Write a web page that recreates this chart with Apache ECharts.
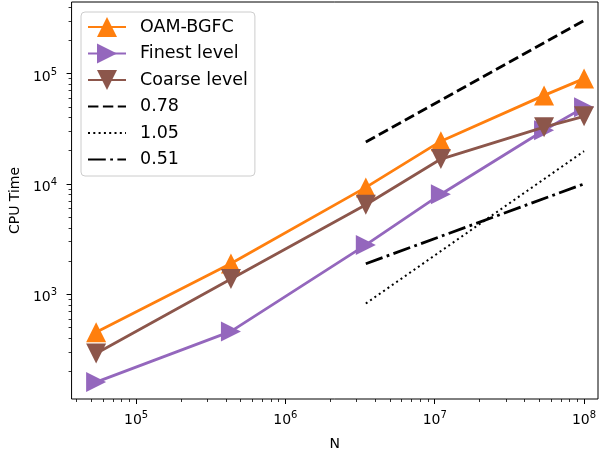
<!DOCTYPE html>
<html>
<head>
<meta charset="utf-8">
<script src="https://cdn.jsdelivr.net/npm/echarts@6/dist/echarts.min.js"></script>
<style>html,body{margin:0;padding:0;background:#fff}#c{width:600px;height:456px}</style>
</head>
<body>
<div id="c"></div>
<script>
// ---- data ----
const N = [54000, 432000, 3456000, 1.1e7, 5.4e7, 1.0e8];
const OAM_BGFC = [452, 1900, 9300, 24400, 63400, 90000];
const FINEST = [160, 461, 2800, 8070, 30600, 49400];
const COARSE = [291, 1375, 6470, 16800, 32700, 41000];
const REF_X = [3456000, 1.0e8];
const REF_078 = [24000, 302000];
const REF_105 = [825, 19800];
const REF_051 = [1890, 10000];
const X_TICK_EXP = [5, 6, 7, 8];
const Y_TICK_EXP = [3, 4, 5];
const MINOR_MANT = [2, 3, 4, 5, 6, 7, 8, 9];
const X_RANGE = [37000, 1.24e8];
const Y_RANGE = [112.5, 445000];

const FONT = 'DejaVu Sans';
const lg = Math.log10;
function minorTicks(range) {
  const out = [];
  for (let e = Math.floor(lg(range[0])); e <= Math.ceil(lg(range[1])); e++) {
    MINOR_MANT.forEach(m => {
      const v = lg(m) + e;
      if (v >= lg(range[0]) && v <= lg(range[1])) out.push(v);
    });
  }
  return out;
}
const pairs = (xs, ys) => xs.map((x, i) => [x, ys[i]]);
const supFmt = v => '{b|10}{s|' + Math.round(v) + '}';
const rich = {
  b: {fontSize: 14, fontFamily: FONT, color: '#000', lineHeight: 17, verticalAlign: 'bottom'},
  s: {fontSize: 10, fontFamily: FONT, color: '#000', lineHeight: 10, verticalAlign: 'top'}
};

const chart = echarts.init(document.getElementById('c'), null, {renderer: 'canvas'});
const dataSeries = (name, ys, color, rot, z) => ({
  name, type: 'line', data: pairs(N, ys), xAxisIndex: 0, yAxisIndex: 0,
  symbol: 'triangle', symbolSize: 20, symbolRotate: rot, showSymbol: true,
  lineStyle: {color, width: 2.8}, itemStyle: {color}, z, silent: true
});
const refSeries = (name, ys, type, width, z) => ({
  name, type: 'line', data: pairs(REF_X, ys), xAxisIndex: 0, yAxisIndex: 0,
  symbol: 'none', showSymbol: false,
  lineStyle: {color: '#000', width, type, cap: 'butt'}, itemStyle: {color: '#000'}, z, silent: true
});

chart.setOption({
  animation: false,
  textStyle: {fontFamily: FONT},
  grid: {left: 71, right: 2, top: 2, bottom: 54, show: true, borderColor: '#000', borderWidth: 1, backgroundColor: 'transparent'},
  xAxis: [
    {type: 'log', logBase: 10, min: X_RANGE[0], max: X_RANGE[1], show: false, splitLine: {show: false}},
    {type: 'value', min: lg(X_RANGE[0]), max: lg(X_RANGE[1]), position: 'bottom',
     name: 'N', nameLocation: 'middle', nameGap: 38, nameTextStyle: {fontSize: 14, color: '#000', fontFamily: FONT},
     axisLine: {show: false}, splitLine: {show: false},
     axisTick: {show: true, length: 5, lineStyle: {color: '#000', width: 1}, customValues: X_TICK_EXP},
     axisLabel: {customValues: X_TICK_EXP, formatter: supFmt, rich, margin: 11.5}},
    {type: 'value', min: lg(X_RANGE[0]), max: lg(X_RANGE[1]), position: 'bottom',
     axisLine: {show: false}, splitLine: {show: false}, axisLabel: {show: false},
     axisTick: {show: true, length: 3, lineStyle: {color: '#000', width: 0.8}, customValues: minorTicks(X_RANGE)}}
  ],
  yAxis: [
    {type: 'log', logBase: 10, min: Y_RANGE[0], max: Y_RANGE[1], show: false, splitLine: {show: false}},
    {type: 'value', min: lg(Y_RANGE[0]), max: lg(Y_RANGE[1]), position: 'left',
     name: 'CPU Time', nameLocation: 'middle', nameGap: 47, nameTextStyle: {fontSize: 14, color: '#000', fontFamily: FONT},
     axisLine: {show: false}, splitLine: {show: false},
     axisTick: {show: true, length: 5, lineStyle: {color: '#000', width: 1}, customValues: Y_TICK_EXP},
     axisLabel: {customValues: Y_TICK_EXP, formatter: supFmt, rich, margin: 14.5, padding: [4, 0, 0, 0]}},
    {type: 'value', min: lg(Y_RANGE[0]), max: lg(Y_RANGE[1]), position: 'left',
     axisLine: {show: false}, splitLine: {show: false}, axisLabel: {show: false},
     axisTick: {show: true, length: 3, lineStyle: {color: '#000', width: 0.8}, customValues: minorTicks(Y_RANGE)}}
  ],
  legend: {
    orient: 'vertical', left: 81, top: 12, padding: [5, 7, 6.5, 6], itemGap: 6.5,
    itemWidth: 38, itemHeight: 25,
    backgroundColor: 'rgba(255,255,255,0.8)', borderColor: '#cccccc', borderWidth: 1, borderRadius: 4,
    textStyle: {fontSize: 17.5, fontFamily: FONT, color: '#000', padding: [0, 0, 0, 9]},
    data: [
      {name: 'OAM-BGFC'}, {name: 'Finest level'}, {name: 'Coarse level'},
      {name: '0.78', itemStyle: {opacity: 0}},
      {name: '1.05', itemStyle: {opacity: 0}},
      {name: '0.51', itemStyle: {opacity: 0}}
    ]
  },
  series: [
    dataSeries('OAM-BGFC', OAM_BGFC, '#ff7f0e', 0, 2),
    dataSeries('Finest level', FINEST, '#9467bd', -90, 3),
    dataSeries('Coarse level', COARSE, '#8c564b', 180, 4),
    refSeries('0.78', REF_078, [10.4, 4.5], 2.8, 5),
    refSeries('1.05', REF_105, [2, 3.3], 2, 6),
    refSeries('0.51', REF_051, [17.8, 4.4, 2.8, 4.4], 2.8, 7)
  ]
});
</script>
</body>
</html>
